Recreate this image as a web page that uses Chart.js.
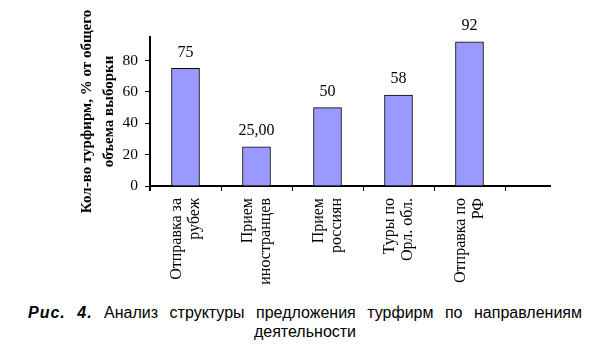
<!DOCTYPE html>
<html>
<head>
<meta charset="utf-8">
<script src="https://cdn.jsdelivr.net/npm/chart.js@4/dist/chart.umd.min.js"></script>
<style>
  html, body { margin: 0; padding: 0; background: #fff; }
  #wrap { position: relative; width: 595px; height: 345px; overflow: hidden; }
  #c { position: absolute; left: 0; top: 0; }
  .cap { position: absolute; font-family: "Liberation Sans", Arial, sans-serif; font-size: 16px; color: #000; white-space: nowrap; line-height: 19px; }
  #cap1 { left: 28px; top: 303px; width: 554px; text-align: justify; text-align-last: justify; white-space: normal; }
  #cap1 b { letter-spacing: 1px; }
  #cap2 { left: 205px; width: 200px; top: 322px; text-align: center; }
</style>
</head>
<body>
<div id="wrap">
  <canvas id="c" width="595" height="300"></canvas>
  <div class="cap" id="cap1"><b><i>Рис.</i></b> <b><i>4.</i></b> Анализ структуры предложения турфирм по направлениям</div>
  <div class="cap" id="cap2">деятельности</div>
</div>
<script>
const categories = [
  ["Отправка за", "рубеж"],
  ["Прием", "иностранцев"],
  ["Прием", "россиян"],
  ["Туры по", "Орл. обл."],
  ["Отправка по", "РФ"]
];
const values = [75, 25, 50, 58, 92];
const valueLabels = ["75", "25,00", "50", "58", "92"];
const yTitle = ["Кол-во турфирм, % от общего", "объема выборки"];

const serif = "'Liberation Serif', 'Times New Roman', serif";

const valueLabelPlugin = {
  id: 'valueLabels',
  afterDatasetsDraw(chart) {
    const ctx = chart.ctx;
    const meta = chart.getDatasetMeta(0);
    ctx.save();
    ctx.font = "16px " + serif;
    ctx.fillStyle = "#000";
    ctx.textAlign = "center";
    ctx.textBaseline = "middle";
    meta.data.forEach((el, i) => {
      ctx.fillText(valueLabels[i], el.x, el.y - 16);
    });
    ctx.restore();
  }
};

const axisExtendPlugin = {
  id: 'axisExtend',
  afterDraw(chart) {
    const ctx = chart.ctx;
    const a = chart.chartArea;
    ctx.save();
    ctx.strokeStyle = "#000";
    ctx.lineWidth = 2;
    ctx.beginPath();
    ctx.moveTo(a.right - 1, a.bottom);
    ctx.lineTo(a.right + 46, a.bottom);
    ctx.stroke();
    ctx.beginPath();
    ctx.moveTo(a.left, a.bottom);
    ctx.lineTo(a.left, a.bottom + 5);
    ctx.stroke();
    ctx.restore();
  }
};

new Chart(document.getElementById('c'), {
  type: 'bar',
  data: {
    labels: categories,
    datasets: [{
      data: values,
      backgroundColor: 'rgb(153,153,255)',
      borderColor: '#000',
      borderWidth: 1,
      barThickness: 28
    }]
  },
  options: {
    responsive: false,
    animation: false,
    events: [],
    layout: { padding: { left: 76, right: 90, top: 37, bottom: 0 } },
    plugins: { legend: { display: false }, tooltip: { enabled: false } },
    scales: {
      x: {
        grid: { display: true, drawOnChartArea: false, drawTicks: true, tickLength: 5, color: '#000', offset: true },
        border: { display: true, color: '#000', width: 2 },
        ticks: {
          color: '#000',
          font: { family: serif, size: 16, lineHeight: 1.15 },
          maxRotation: 90, minRotation: 90,
          autoSkip: false,
          labelOffset: -9,
          padding: 7
        },
        afterFit(scale) { scale.height = 114; }
      },
      y: {
        min: 0, max: 95,
        grid: { display: true, drawOnChartArea: false, drawTicks: true, tickLength: 5, color: '#000' },
        border: { display: true, color: '#000', width: 2 },
        ticks: {
          stepSize: 20,
          color: '#000',
          font: { family: serif, size: 15.5 },
          padding: 7
        },
        afterBuildTicks(scale) { scale.ticks = scale.ticks.filter(t => t.value % 20 === 0); },
        title: {
          display: true,
          text: yTitle,
          color: '#000',
          font: { family: serif, size: 15, weight: 'bold', lineHeight: 1.45 },
          padding: { top: 0, bottom: 0 }
        },
        afterFit(scale) { scale.width = 74; }
      }
    }
  },
  plugins: [valueLabelPlugin, axisExtendPlugin]
});
</script>
</body>
</html>
